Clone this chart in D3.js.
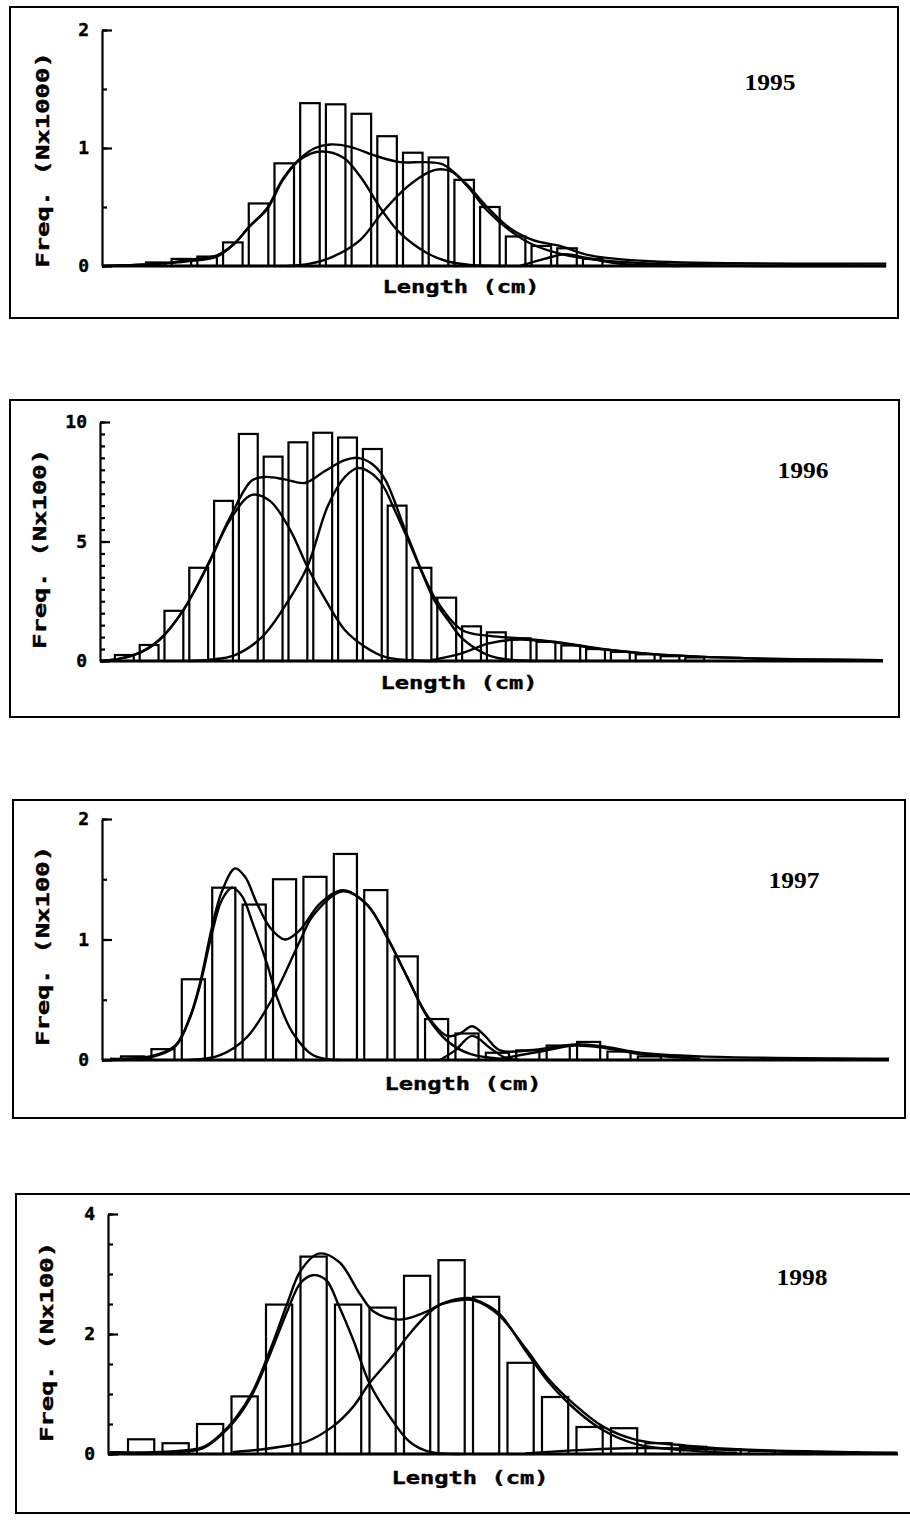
<!DOCTYPE html>
<html>
<head>
<meta charset="utf-8">
<script src="https://cdn.jsdelivr.net/npm/d3@7"></script>
<style>
  body { margin: 0; background: #fff; }
  svg { display: block; }
  .axis text { font-family: "DejaVu Sans Mono", monospace; font-weight: bold; font-size: 18px; fill: #000; stroke: #000; stroke-width: 0.4; }
  .axis path, .axis line { stroke: #000; stroke-width: 2.2; }
  .bar { fill: #fff; stroke: #000; stroke-width: 2.2; }
  .curve { fill: none; stroke: #000; stroke-width: 2.4; stroke-linejoin: round; }
  .frame { fill: none; stroke: #000; stroke-width: 2; }
  .base { stroke: #000; stroke-width: 3; }
  .title { font-family: "DejaVu Sans Mono", monospace; font-weight: bold; font-size: 17px; fill: #000; stroke: #000; stroke-width: 0.4; }
  .year { font-family: "Liberation Serif", serif; font-weight: bold; font-size: 23px; fill: #000; }
</style>
</head>
<body>
<svg id="chart" width="910" height="1521"></svg>
<script>

// ---------- data (x in length-class units, y in panel units) ----------

// 1995  (Freq. Nx1000)
var bars1995 = [0.03, 0.06, 0.08, 0.20, 0.53, 0.87, 1.38, 1.37, 1.29, 1.10, 0.96, 0.92, 0.73, 0.50, 0.25, 0.17, 0.15, 0.06];
var total1995 = [[-1.67,0],[0.54,0.02],[1.6,0.05],[2.76,0.09],[3.39,0.18],[4.05,0.34],[4.71,0.49],[5.33,0.74],[5.99,0.91],[6.58,1.0],[7.16,1.03],[7.94,1.01],[8.99,0.93],[9.88,0.88],[10.86,0.88],[11.56,0.86],[12.49,0.69],[13.27,0.5],[14.16,0.32],[15.06,0.22],[16.1,0.17],[17.28,0.09],[19.6,0.04],[28.8,0.02]];
var compA1995 = [[-1.67,0],[0.54,0.02],[1.6,0.04],[2.76,0.08],[3.39,0.18],[4.05,0.34],[4.71,0.48],[5.33,0.73],[5.99,0.9],[6.77,0.97],[7.67,0.92],[8.33,0.76],[9.22,0.46],[9.88,0.28],[10.93,0.11],[11.71,0.04],[12.6,0.01],[14,0]];
var compB1995 = [[5.5,0],[6.38,0.02],[7.28,0.08],[8.33,0.22],[9.22,0.46],[10.16,0.67],[11.05,0.8],[11.44,0.82],[11.9,0.8],[12.49,0.68],[13.27,0.47],[14.16,0.3],[15.06,0.18],[16.38,0.09],[17.67,0.05],[20.9,0.01],[28.8,0]];
var compC1995 = [[14.55,0],[15.5,0.06],[16.3,0.1],[17.1,0.07],[18.4,0.02],[20.8,0]];
var ticks1995 = [0, 0.5, 1, 1.5, 2];
var labels1995 = [0, 1, 2];

// 1996  (Freq. Nx100)
var bars1996 = [0.25, 0.67, 2.1, 3.9, 6.7, 9.5, 8.55, 9.15, 9.55, 9.35, 8.87, 6.5, 3.9, 2.65, 1.45, 1.2, 0.95, 0.8, 0.65, 0.5, 0.38, 0.28, 0.2, 0.15];
var total1996 = [[-0.6,0],[0.2,0.1],[1.01,0.35],[1.81,0.9],[2.74,2.1],[3.75,4.05],[4.64,6.0],[5.52,7.55],[6.05,7.7],[6.85,7.6],[7.66,7.45],[8.47,7.95],[9.27,8.4],[9.8,8.5],[10.36,8.25],[10.89,7.6],[11.81,5.2],[12.9,2.65],[13.99,1.3],[15.12,1.05],[16.33,0.95],[17.94,0.78],[19.56,0.52],[21.57,0.3],[24.4,0.15],[27.6,0.07],[30.97,0.03]];
var compA1996 = [[-0.6,0],[0.2,0.1],[1.01,0.35],[1.81,0.9],[2.74,2.1],[3.75,4.0],[4.64,5.9],[5.52,6.95],[6.25,6.7],[7.06,5.5],[7.78,3.9],[8.47,2.6],[9.27,1.3],[10.08,0.6],[10.89,0.17],[11.9,0.03],[13,0]];
var compB1996 = [[3.0,0],[3.83,0.05],[4.84,0.25],[5.93,1.0],[6.98,2.5],[7.78,4.0],[8.59,6.5],[9.27,7.7],[9.8,8.07],[10.28,7.9],[10.77,7.4],[11.29,6.3],[11.81,5.1],[12.38,3.7],[12.9,2.5],[13.51,1.6],[13.99,0.96],[15.04,0.25],[15.93,0.05],[17,0]];
var compC1996 = [[12.7,0.02],[13.91,0.3],[15.12,0.75],[16.33,0.9],[17.94,0.75],[19.56,0.5],[21.57,0.3],[24.4,0.15],[27.6,0.07],[30.8,0.03]];
var ticks1996 = [0, 0.5, 1, 1.5, 2, 2.5, 3, 3.5, 4, 4.5, 5, 5.5, 6, 6.5, 7, 7.5, 8, 8.5, 9, 9.5, 10];
var labels1996 = [0, 5, 10];

// 1997  (Freq. Nx100)
var bars1997 = [0.03, 0.09, 0.67, 1.43, 1.29, 1.50, 1.52, 1.71, 1.41, 0.86, 0.34, 0.22, 0.06, 0.08, 0.12, 0.15, 0.07, 0.03];
var total1997 = [[-0.36,0.01],[0.95,0.03],[1.78,0.12],[2.27,0.36],[2.6,0.64],[2.99,1.1],[3.32,1.4],[3.75,1.59],[4.08,1.52],[4.47,1.3],[4.9,1.1],[5.39,1.0],[5.89,1.08],[6.55,1.3],[7.3,1.41],[8.09,1.29],[8.75,1.02],[9.41,0.69],[10.07,0.37],[10.72,0.2],[11.15,0.22],[11.55,0.28],[11.97,0.2],[12.47,0.08],[13.78,0.09],[14.93,0.13],[15.92,0.11],[17.07,0.06],[19.05,0.03],[25.26,0.01]];
var compA1997 = [[-0.36,0],[0.95,0.02],[1.78,0.11],[2.27,0.35],[2.6,0.62],[2.99,1.05],[3.32,1.33],[3.65,1.43],[3.98,1.36],[4.34,1.13],[4.8,0.8],[5.16,0.5],[5.66,0.22],[6.32,0.04],[7.2,0]];
var compB1997 = [[2.27,0],[3.26,0.04],[4.14,0.19],[5.0,0.52],[5.89,0.99],[6.32,1.2],[7.3,1.40],[8.09,1.29],[8.75,1.02],[9.41,0.69],[10.07,0.36],[10.72,0.16],[11.48,0.05],[12.47,0.01]];
var compC1997 = [[10.49,0],[10.99,0.08],[11.55,0.2],[12.14,0.1],[12.63,0.02],[13.1,0]];
var compD1997 = [[12.47,0.01],[13.78,0.07],[14.93,0.12],[15.92,0.1],[17.07,0.05],[19.05,0.01]];
var ticks1997 = [0, 0.5, 1, 1.5, 2];
var labels1997 = [0, 1, 2];

// 1998  (Freq. Nx100)
var bars1998 = [0.245, 0.18, 0.5, 0.96, 2.49, 3.29, 2.49, 2.44, 2.97, 3.23, 2.62, 1.52, 0.95, 0.45, 0.43, 0.18, 0.12, 0.08, 0.05, 0.04, 0.03];
var total1998 = [[-0.53,0.03],[1.13,0.04],[2.15,0.11],[2.65,0.31],[3.12,0.6],[3.62,1.05],[4.13,1.75],[4.63,2.53],[5.0,3.05],[5.53,3.34],[6.12,3.2],[6.71,2.68],[7.13,2.37],[7.87,2.24],[8.64,2.37],[9.09,2.5],[9.72,2.57],[10.03,2.56],[10.74,2.32],[11.55,1.74],[12.19,1.25],[12.95,0.82],[13.76,0.46],[14.7,0.24],[16.18,0.14],[17.65,0.08],[21.1,0.03],[22.3,0.02]];
var compA1998 = [[-0.53,0.02],[1.13,0.02],[2.15,0.09],[2.65,0.29],[3.12,0.57],[3.62,1.01],[4.13,1.68],[4.63,2.4],[5.0,2.85],[5.35,2.98],[5.74,2.9],[6.12,2.46],[6.53,1.9],[7.0,1.18],[7.65,0.57],[8.17,0.2],[8.72,0.04],[9.63,0]];
var compB1998 = [[3.03,0.03],[3.91,0.08],[4.75,0.15],[5.15,0.2],[5.94,0.46],[6.53,0.79],[7.0,1.18],[7.65,1.62],[8.17,2.01],[8.72,2.35],[9.09,2.5],[9.53,2.58],[9.88,2.6],[10.03,2.58],[10.74,2.35],[11.55,1.7],[12.19,1.2],[12.95,0.75],[13.76,0.4],[14.7,0.17],[16.18,0.06],[17.65,0.02]];
var compC1998 = [[11.52,0.01],[12.9,0.06],[14.7,0.1],[16.18,0.09],[17.94,0.06],[19.7,0.03],[21.4,0.01]];
var ticks1998 = [0, 0.5, 1, 1.5, 2, 2.5, 3, 3.5, 4];
var labels1998 = [0, 2, 4];

var years = ["1995", "1996", "1997", "1998"];
var yTitles = ["Freq. (Nx1000)", "Freq. (Nx100)", "Freq. (Nx100)", "Freq. (Nx100)"];
var xTitle = "Length (cm)";

// ---------- panel layout (pixels) ----------
var panels = [
  { year: years[0], yTitle: yTitles[0], bars: bars1995, curves: [total1995, compA1995, compB1995, compC1995],
    ticks: ticks1995, labels: labels1995, yMax: 2,
    box: [10, 7, 888, 311], x0: 102, x1: 886, y0: 266, y1: 30, xDom: [-1.71, 28.79],
    yTitlePos: [43, 160], xTitlePos: [461, 293], yearPos: [770, 90] },
  { year: years[1], yTitle: yTitles[1], bars: bars1996, curves: [total1996, compA1996, compB1996, compC1996],
    ticks: ticks1996, labels: labels1996, yMax: 10,
    box: [10, 400, 889, 317], x0: 100, x1: 883, y0: 661, y1: 422, xDom: [-0.6, 30.97],
    yTitlePos: [40, 549], xTitlePos: [459, 689], yearPos: [803, 478] },
  { year: years[2], yTitle: yTitles[2], bars: bars1997, curves: [total1997, compA1997, compB1997, compC1997, compD1997],
    ticks: ticks1997, labels: labels1997, yMax: 2,
    box: [13, 800, 892, 318], x0: 102, x1: 889, y0: 1060, y1: 819, xDom: [-0.625, 25.26],
    yTitlePos: [43, 946], xTitlePos: [463, 1090], yearPos: [794, 888] },
  { year: years[3], yTitle: yTitles[3], bars: bars1998, curves: [total1998, compA1998, compB1998, compC1998],
    ticks: ticks1998, labels: labels1998, yMax: 4,
    box: [16, 1194, 905, 319], x0: 108, x1: 898, y0: 1454, y1: 1214, xDom: [-0.58, 22.32],
    yTitlePos: [47, 1342], xTitlePos: [470, 1484], yearPos: [802, 1285] }
];

var svg = d3.select("#chart");

panels.forEach(function(p) {

  var g = svg.append("g");

  var x = d3.scaleLinear().domain(p.xDom).range([p.x0, p.x1]);
  var y = d3.scaleLinear().domain([0, p.yMax]).range([p.y0, p.y1]);
  var binW = x(1) - x(0);

  // frame
  g.append("rect")
    .attr("class", "frame")
    .attr("x", p.box[0]).attr("y", p.box[1])
    .attr("width", p.box[2]).attr("height", p.box[3]);

  // bars
  g.selectAll(".bar")
    .data(p.bars)
    .enter()
    .append("rect")
      .attr("class", "bar")
      .attr("x", (d, i) => x(i))
      .attr("y", d => y(d))
      .attr("width", binW * 0.76)
      .attr("height", d => y(0) - y(d));

  // fitted curves
  var line = d3.line()
    .x(d => x(d[0]))
    .y(d => y(d[1]))
    .curve(d3.curveCatmullRom.alpha(0.5));

  g.selectAll(".curve")
    .data(p.curves)
    .enter()
    .append("path")
      .attr("class", "curve")
      .attr("d", line);

  // baseline
  g.append("line")
    .attr("class", "base")
    .attr("x1", p.x0).attr("x2", p.x1)
    .attr("y1", y(0)).attr("y2", y(0));

  // y axis: minor ticks, then labelled major ticks (ticks point inward)
  g.append("g")
    .attr("class", "axis")
    .attr("transform", "translate(" + p.x0 + ",0)")
    .call(d3.axisLeft(y).tickValues(p.ticks).tickSize(-5).tickSizeOuter(0).tickFormat(""));

  var major = g.append("g")
    .attr("class", "axis")
    .attr("transform", "translate(" + p.x0 + ",0)")
    .call(d3.axisLeft(y).tickValues(p.labels).tickSize(-10).tickSizeOuter(0)
            .tickPadding(13).tickFormat(d3.format("d")));
  major.select(".domain").remove();

  // titles
  g.append("text")
    .attr("class", "title")
    .attr("transform", "translate(" + p.yTitlePos[0] + "," + p.yTitlePos[1] + ") rotate(-90)")
    .attr("text-anchor", "middle")
    .attr("dy", "0.35em")
    .attr("textLength", p.yTitle.length * 15.4)
    .attr("lengthAdjust", "spacingAndGlyphs")
    .text(p.yTitle);

  g.append("text")
    .attr("class", "title")
    .attr("x", p.xTitlePos[0])
    .attr("y", p.xTitlePos[1])
    .attr("text-anchor", "middle")
    .attr("textLength", 157)
    .attr("lengthAdjust", "spacingAndGlyphs")
    .text(xTitle);

  g.append("text")
    .attr("class", "year")
    .attr("x", p.yearPos[0])
    .attr("y", p.yearPos[1])
    .attr("text-anchor", "middle")
    .attr("textLength", 51)
    .attr("lengthAdjust", "spacingAndGlyphs")
    .text(p.year);
});

</script>
</body>
</html>
